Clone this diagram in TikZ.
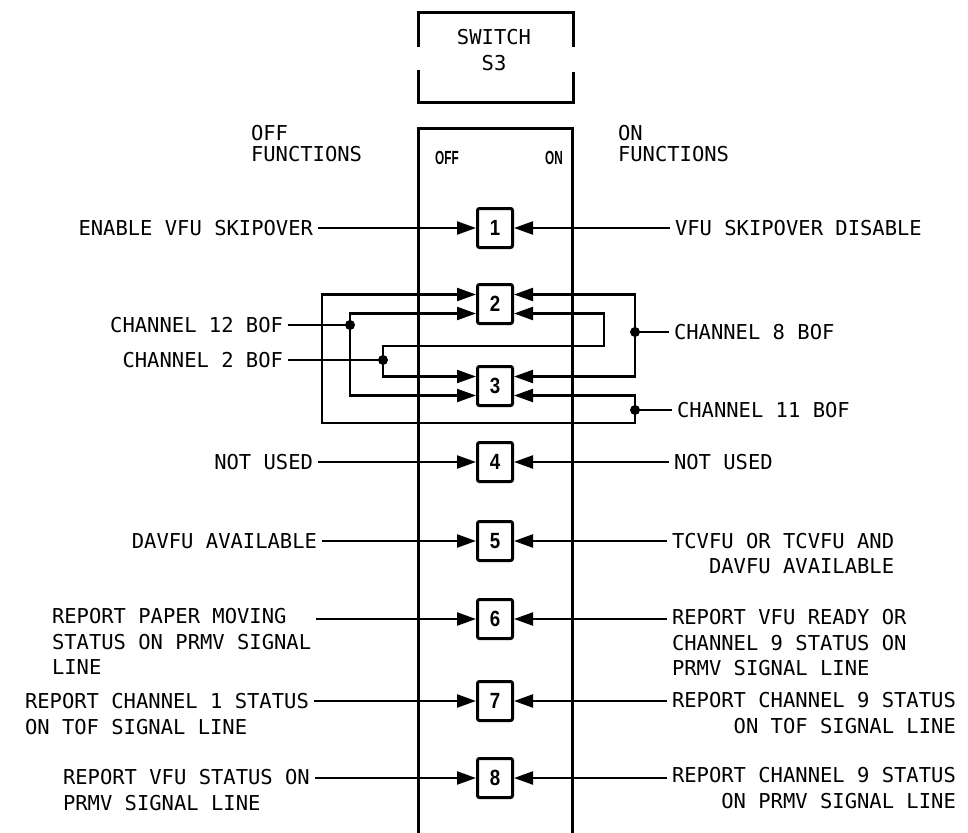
\documentclass[tikz,border=0pt]{standalone}
\usepackage{fontspec}
\setmainfont{DejaVu Sans Mono}
\newfontfamily\lblfont{DejaVu Sans Mono}
\newfontfamily\numfont{Liberation Sans}[FakeStretch=0.85]
\newfontfamily\offonfont{Liberation Sans}[FakeStretch=0.62]
\usetikzlibrary{arrows.meta}
\begin{document}
\begin{tikzpicture}[x=1pt,y=-1pt,
  conn/.style={line width=2.2pt},
  arr/.style={conn,-{Triangle[length=19pt,width=13pt]}},
  frame/.style={line width=3pt},
  swbox/.style={draw,line width=3pt,rounded corners=2pt,minimum width=35pt,minimum height=39pt,inner sep=0pt,font=\numfont\bfseries\fontsize{22}{22}\selectfont},
  lbl/.style={inner sep=0pt,outer sep=5pt,font=\lblfont\fontsize{20.5}{25.5}\selectfont},
  hdr/.style={inner sep=0pt,outer sep=0pt,align=left,font=\lblfont\fontsize{20.5}{21}\selectfont},
  offon/.style={inner sep=0pt,font=\offonfont\bfseries\fontsize{19}{19}\selectfont}
]
\fill[white] (0,0) rectangle (968,832);
\useasboundingbox (0,0) rectangle (968,832);

% switch S3 box
\node[lbl,align=center,outer sep=0pt] (sw) at (494,50) {SWITCH\\S3};
\draw[frame] (418,47) -- (418,13) -- (573,13) -- (573,47);
\draw[frame] (418,70) -- (418,103) -- (573,103) -- (573,72);

% switch frame
\draw[frame] (418,836) -- (418,128) -- (572,128) -- (572,836);
\node[offon,anchor=west] (off) at (435,158) {OFF};
\node[offon,anchor=east] (on) at (563,158) {ON};

% headers
\node[hdr,anchor=north west] (hoff) at (251,125) {OFF\\FUNCTIONS};
\node[hdr,anchor=north west] (hon) at (618,125) {ON\\FUNCTIONS};

% switch positions
\foreach \n/\y in {1/228,2/304,3/386,4/462,5/541,6/619,7/701,8/778}
  \node[swbox] (b\n) at (495,\y) {\n};

% left labels
\node[lbl,anchor=east] (l1) at (318,228) {ENABLE VFU SKIPOVER};
\node[lbl,anchor=east] (l4) at (318,462) {NOT USED};
\node[lbl,anchor=east] (l5) at (322,541) {DAVFU AVAILABLE};
\node[lbl,anchor=north west,align=left] (l6) at (47,603.5) {REPORT PAPER MOVING\\STATUS ON PRMV SIGNAL\\LINE};
\node[lbl,anchor=north west,align=left] (l7) at (20,688.5) {REPORT CHANNEL 1 STATUS\\ON TOF SIGNAL LINE};
\node[lbl,anchor=north west,align=left] (l8) at (58,764.5) {REPORT VFU STATUS ON\\PRMV SIGNAL LINE};

% right labels
\node[lbl,anchor=west] (r1) at (670,228) {VFU SKIPOVER DISABLE};
\node[lbl,anchor=west] (r4) at (669,462) {NOT USED};
\node[lbl,anchor=north west,align=right] (r5) at (667,528) {TCVFU OR TCVFU AND\\DAVFU AVAILABLE};
\node[lbl,anchor=north west,align=left] (r6) at (667,604.5) {REPORT VFU READY OR\\CHANNEL 9 STATUS ON\\PRMV SIGNAL LINE};
\node[lbl,anchor=north west,align=right] (r7) at (667,687.5) {REPORT CHANNEL 9 STATUS\\ON TOF SIGNAL LINE};
\node[lbl,anchor=north west,align=right] (r8) at (667,762.5) {REPORT CHANNEL 9 STATUS\\ON PRMV SIGNAL LINE};

% simple connectors
\draw[arr] (l1.east) -- (b1.west);
\draw[arr] (r1.west) -- (b1.east);
\draw[arr] (l4.east) -- (b4.west);
\draw[arr] (r4.west) -- (b4.east);
\draw[arr] (l5.east) -- (b5.west);
\draw[arr] (r5.west |- b5) -- (b5.east);
\draw[arr] (l6.east |- b6) -- (b6.west);
\draw[arr] (r6.west |- b6) -- (b6.east);
\draw[arr] (l7.east |- b7) -- (b7.west);
\draw[arr] (r7.west |- b7) -- (b7.east);
\draw[arr] (l8.east |- b8) -- (b8.west);
\draw[arr] (r8.west |- b8) -- (b8.east);

% channel labels
\node[lbl,anchor=east] (c12) at (288,325) {CHANNEL 12 BOF};
\node[lbl,anchor=east] (c2) at (288,360) {CHANNEL 2 BOF};
\node[lbl,anchor=west] (c8) at (669,332) {CHANNEL 8 BOF};
\node[lbl,anchor=west] (c11) at (672,410) {CHANNEL 11 BOF};

% arrow entry points on boxes 2 and 3
\coordinate (b2ul) at ([yshift=9.5pt]b2.west);
\coordinate (b2ll) at ([yshift=-9.5pt]b2.west);
\coordinate (b2ur) at ([yshift=9.5pt]b2.east);
\coordinate (b2lr) at ([yshift=-9.5pt]b2.east);
\coordinate (b3ul) at ([yshift=9.5pt]b3.west);
\coordinate (b3ll) at ([yshift=-9.5pt]b3.west);
\coordinate (b3ur) at ([yshift=9.5pt]b3.east);
\coordinate (b3lr) at ([yshift=-9.5pt]b3.east);

% junctions and corners
\coordinate (j12) at (350,325);
\coordinate (j2) at (383,360);
\coordinate (j8) at (635,332);
\coordinate (j11) at (635,410);
\coordinate (k2) at (604,346);
\coordinate (k11) at (322,423);

% channel 12
\draw[conn] (c12.east) -- (j12);
\draw[arr] (j12) |- (b2ll);
\draw[arr] (j12) |- (b3ll);
% channel 2
\draw[conn] (c2.east) -- (j2);
\draw[arr] (j2) |- (b3ul);
\draw[arr] (j2) |- (k2) |- (b2lr);
% channel 8
\draw[conn] (c8.west) -- (j8);
\draw[arr] (j8) |- (b2ur);
\draw[arr] (j8) |- (b3ur);
% channel 11
\draw[conn] (c11.west) -- (j11);
\draw[arr] (j11) |- (b3lr);
\draw[arr] (j11) |- (k11) |- (b2ul);

\foreach \j in {j12,j2,j8,j11} \fill (\j) circle (5pt);
\end{tikzpicture}
\end{document}
